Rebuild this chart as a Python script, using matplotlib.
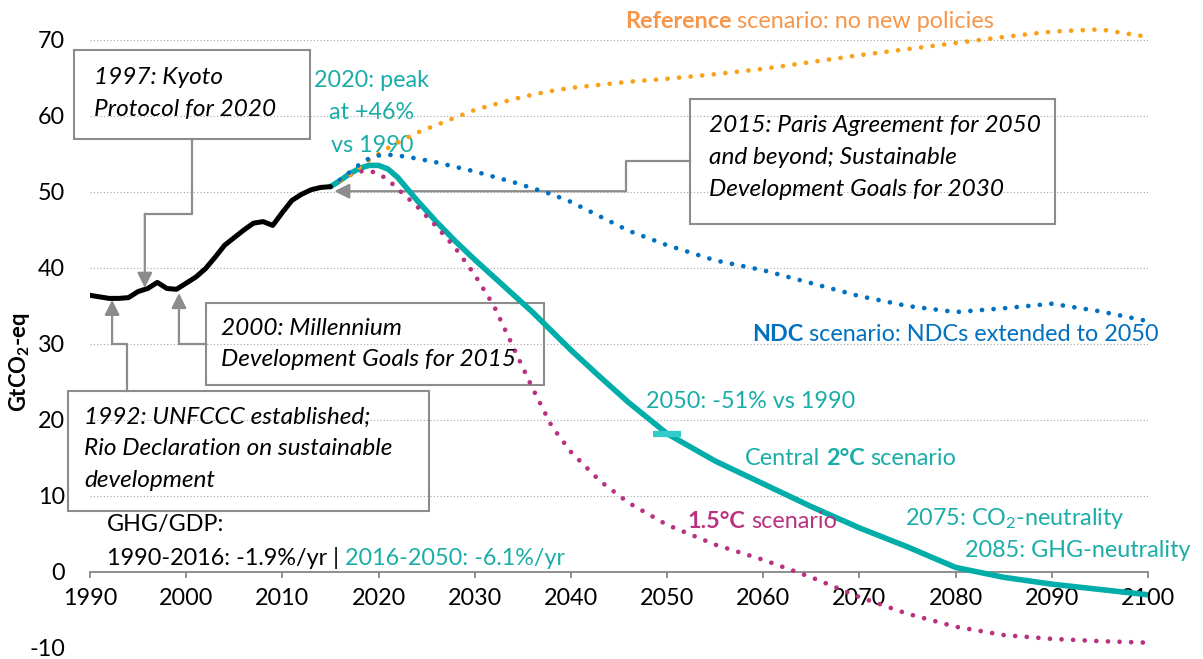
import matplotlib.pyplot as plt

plt.rcParams['font.family'] = ['Lato', 'DejaVu Sans']
plt.rcParams['mathtext.fontset'] = 'custom'
plt.rcParams['mathtext.rm'] = 'Lato'
plt.rcParams['mathtext.it'] = 'Lato:italic'
plt.rcParams['mathtext.bf'] = 'Lato:bold'
plt.rcParams['axes.unicode_minus'] = False

# historical emissions (GtCO2-eq)
hist_years = list(range(1990, 2016))
hist_ghg = [36.4, 36.2, 36.0, 36.0, 36.1, 36.9, 37.3, 38.1, 37.3, 37.2, 38.0, 38.8, 39.9,
            41.4, 43.0, 44.0, 45.0, 45.9, 46.1, 45.6, 47.3, 48.9, 49.7, 50.3, 50.6, 50.7]

# scenarios
sc_years = [2015, 2016, 2017, 2018, 2019, 2020, 2021, 2022, 2024, 2026, 2028, 2030, 2032, 2034,
            2036, 2038, 2040, 2043, 2046, 2050, 2055, 2060, 2065, 2070, 2075, 2080, 2085, 2090,
            2095, 2100]
ref = [50.7, 51.4, 52.2, 53.2, 54.2, 55.0, 55.8, 56.5, 57.8, 58.8, 59.8, 60.8, 61.5, 62.2,
       62.8, 63.3, 63.7, 64.1, 64.5, 64.9, 65.5, 66.2, 67.1, 68.0, 68.8, 69.6, 70.4, 71.1,
       71.4, 70.4]
ndc = [50.7, 51.6, 52.6, 53.6, 54.4, 54.8, 54.9, 54.8, 54.4, 53.9, 53.3, 52.7, 52.0, 51.3,
       50.5, 49.7, 48.7, 46.8, 44.9, 43.0, 41.0, 39.7, 38.0, 36.3, 35.0, 34.2, 34.7, 35.3,
       34.3, 33.0]
c2 = [50.7, 51.5, 52.4, 53.1, 53.5, 53.5, 53.0, 51.9, 48.9, 46.1, 43.5, 41.1, 38.8, 36.5,
      34.2, 31.7, 29.2, 25.7, 22.3, 18.2, 14.6, 11.6, 8.6, 5.8, 3.3, 0.6, -0.7, -1.6,
      -2.3, -3.0]
c15 = [50.7, 51.5, 52.2, 52.7, 52.8, 52.4, 51.6, 50.4, 48.1, 45.5, 42.6, 39.1, 35.0, 29.6,
       24.2, 19.2, 15.8, 12.0, 9.1, 6.2, 3.6, 1.6, -0.7, -3.3, -5.5, -7.2, -8.3, -8.8,
       -9.1, -9.3]

TEAL = '#00ADA8'
TEAL_TXT = '#1AADA8'
ORANGE = '#F9A11B'
ORANGE_TXT = '#F7964A'
BLUE = '#0070C0'
MAGENTA = '#B8327F'
GREY = '#8C8C8C'
FS = 16.8     # regular labels
FS_IT = 17.6  # italic boxes

fig = plt.figure(figsize=(12.03, 6.59), dpi=100)
ax = fig.add_axes([0.0748, 0.0167, 0.8795, 0.9803])
ax.set_xlim(1990, 2100)
ax.set_ylim(-10, 75)

# grid
for v in range(-10, 80, 10):
    if v != 0:
        ax.axhline(v, color='#A6A6A6', lw=0.8, ls=(0, (1, 2)), zorder=0)

for s in ['left', 'right', 'top']:
    ax.spines[s].set_visible(False)
ax.spines['bottom'].set_position(('data', 0))
ax.spines['bottom'].set_color('#868686')
ax.spines['bottom'].set_linewidth(1.3)
ax.set_xticks(range(1990, 2101, 10))
ax.set_yticks(range(-10, 71, 10))
ax.tick_params(axis='x', direction='out', length=4.5, width=1.3, color='#868686',
               labelsize=FS, pad=7)
ax.tick_params(axis='y', length=0, labelsize=FS, pad=18)

dots = dict(lw=3.4, ls=(0, (0.01, 2.45)), dash_capstyle='round')
ax.plot(sc_years, c2, color=TEAL, lw=4, solid_capstyle='round', zorder=3)
ax.plot(sc_years, c15, color=MAGENTA, zorder=4, **dots)
ax.plot(sc_years, ref, color=ORANGE, zorder=5, **dots)
ax.plot(sc_years, ndc, color=BLUE, zorder=6, **dots)
ax.plot(hist_years, hist_ghg, color='black', lw=3.6, solid_capstyle='round', zorder=7)
ax.plot([2050], [c2[sc_years.index(2050)]], marker='_', ms=20, mew=4.5,
        color='#33CCCC', zorder=8)


def box(x0, y0, x1, y1, lines, tx, ty, dy):
    ax.add_patch(plt.Rectangle((x0, y0), x1 - x0, y1 - y0, fill=False, ec=GREY,
                               lw=1.5, clip_on=False, zorder=2))
    for i, s in enumerate(lines):
        ax.text(tx, ty - i * dy, s, style='italic', fontsize=FS_IT, va='center',
                ha='left', zorder=9)


def connector(pts):
    xs, ys = zip(*pts[:-1])
    ax.plot(xs, ys, color=GREY, lw=1.6, clip_on=False, zorder=2)
    ax.annotate('', xy=pts[-1], xytext=pts[-2],
                arrowprops=dict(arrowstyle='-|>,head_length=0.9,head_width=0.45',
                                color=GREY, lw=1.6, shrinkA=0, shrinkB=0),
                annotation_clip=False, zorder=2)


box(1988.3, 57.0, 2012.9, 68.7, ['1997: Kyoto', 'Protocol for 2020'], 1990.4, 65.0, 4.2)
connector([(2000.6, 57.0), (2000.6, 47.1), (1995.7, 47.1), (1995.7, 37.4)])

box(1987.7, 8.0, 2025.2, 23.8, ['1992: UNFCCC established;', 'Rio Declaration on sustainable',
                                'development'], 1989.4, 20.4, 4.15)
connector([(1993.85, 23.8), (1993.85, 30.0), (1992.3, 30.0), (1992.3, 35.8)])

box(2002.1, 24.6, 2037.2, 35.4, ['2000: Millennium', 'Development Goals for 2015'],
    2003.6, 32.0, 4.1)
connector([(2002.1, 30.0), (1999.25, 30.0), (1999.25, 36.7)])

box(2052.4, 45.8, 2090.3, 62.2, ['2015: Paris Agreement for 2050',
                                 'and beyond; Sustainable', 'Development Goals for 2030'],
    2054.4, 58.8, 4.25)
connector([(2052.4, 54.1), (2045.7, 54.1), (2045.7, 50.1), (2015.4, 50.1)])


def rich(x, y, parts):
    t = None
    for s, c, w in parts:
        if t is None:
            t = ax.text(x, y, s, color=c, fontweight=w, fontsize=FS, va='center', ha='left')
        else:
            t = ax.annotate(s, xy=(1, 0), xycoords=t, xytext=(4.2, 0),
                            textcoords='offset points', color=c, fontweight=w,
                            fontsize=FS, va='bottom', ha='left')
    return t


for i, s in enumerate(['2020: peak', 'at +46%', 'vs 1990']):
    ax.text(2019.3, 64.7 - i * 4.3, s, color=TEAL_TXT, fontsize=FS, ha='center', va='center')

rich(2045.6, 72.4, [('Reference', ORANGE_TXT, 'bold'),
                    ('scenario: no new policies', ORANGE_TXT, 'normal')])
rich(2058.8, 31.3, [('NDC', BLUE, 'bold'), ('scenario: NDCs extended to 2050', BLUE, 'normal')])
rich(2047.8, 22.4, [('2050: -51% vs 1990', TEAL_TXT, 'normal')])
rich(2058.1, 14.9, [('Central', TEAL_TXT, 'normal'), ('2°C', TEAL_TXT, 'bold'),
                    ('scenario', TEAL_TXT, 'normal')])
rich(2052.1, 6.6, [('1.5°C', MAGENTA, 'bold'), ('scenario', MAGENTA, 'normal')])
rich(2074.7, 7.1, [('2075: CO$_2$-neutrality', TEAL_TXT, 'normal')])
rich(2081.0, 2.8, [('2085: GHG-neutrality', TEAL_TXT, 'normal')])
rich(1991.8, 6.2, [('GHG/GDP:', 'black', 'normal')])
rich(1991.8, 1.85, [('1990-2016: -1.9%/yr |', 'black', 'normal'),
                    ('2016-2050: -6.1%/yr', TEAL_TXT, 'normal')])

fig.text(20 / 1203, 1 - 362 / 659, r'GtCO$_\mathbf{2}$-eq', rotation=90, fontsize=FS - 1,
         fontweight='bold', ha='center', va='center')

fig.savefig('out.png', dpi=100)
